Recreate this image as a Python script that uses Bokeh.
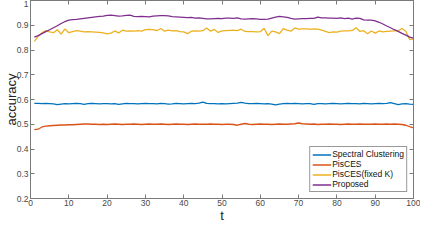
from bokeh.plotting import figure
from bokeh.models import LinearAxis, FixedTicker, Range1d, Legend, LegendItem, CustomJSTickFormatter
from bokeh.embed import file_html
from bokeh.resources import INLINE

t = list(range(1, 101))

spectral = [0.584, 0.584, 0.583, 0.584, 0.583, 0.582, 0.579, 0.581, 0.583, 0.582,
            0.583, 0.584, 0.583, 0.580, 0.583, 0.584, 0.583, 0.582, 0.583, 0.583,
            0.582, 0.583, 0.580, 0.582, 0.584, 0.583, 0.583, 0.582, 0.583, 0.584,
            0.583, 0.583, 0.582, 0.584, 0.583, 0.581, 0.582, 0.584, 0.583, 0.582,
            0.583, 0.584, 0.583, 0.585, 0.589, 0.584, 0.583, 0.583, 0.582, 0.583,
            0.582, 0.583, 0.584, 0.585, 0.588, 0.585, 0.583, 0.583, 0.584, 0.583,
            0.582, 0.583, 0.581, 0.578, 0.581, 0.583, 0.584, 0.583, 0.584, 0.583,
            0.582, 0.583, 0.583, 0.580, 0.583, 0.583, 0.582, 0.583, 0.584, 0.583,
            0.582, 0.583, 0.584, 0.583, 0.583, 0.582, 0.584, 0.583, 0.582, 0.583,
            0.584, 0.583, 0.584, 0.587, 0.583, 0.579, 0.582, 0.583, 0.581, 0.580]

pisces = [0.478, 0.480, 0.489, 0.492, 0.494, 0.495, 0.496, 0.497, 0.497, 0.498,
          0.498, 0.499, 0.500, 0.501, 0.501, 0.500, 0.500, 0.499, 0.500, 0.499,
          0.500, 0.501, 0.500, 0.499, 0.500, 0.500, 0.501, 0.500, 0.499, 0.500,
          0.501, 0.500, 0.500, 0.501, 0.500, 0.499, 0.500, 0.501, 0.500, 0.500,
          0.499, 0.500, 0.501, 0.500, 0.500, 0.500, 0.501, 0.500, 0.500, 0.499,
          0.500, 0.500, 0.499, 0.496, 0.500, 0.503, 0.500, 0.499, 0.500, 0.501,
          0.500, 0.500, 0.499, 0.500, 0.501, 0.500, 0.500, 0.501, 0.502, 0.505,
          0.502, 0.501, 0.500, 0.501, 0.499, 0.500, 0.500, 0.501, 0.500, 0.500,
          0.499, 0.500, 0.501, 0.500, 0.500, 0.501, 0.500, 0.500, 0.500, 0.501,
          0.500, 0.500, 0.501, 0.500, 0.501, 0.500, 0.499, 0.496, 0.490, 0.485]

pisces_fixed = [0.835, 0.855, 0.870, 0.878, 0.873, 0.870, 0.882, 0.864, 0.885, 0.870,
                0.874, 0.878, 0.876, 0.873, 0.874, 0.873, 0.872, 0.871, 0.869, 0.865,
                0.868, 0.877, 0.869, 0.880, 0.876, 0.877, 0.876, 0.878, 0.876, 0.882,
                0.883, 0.882, 0.878, 0.887, 0.876, 0.880, 0.877, 0.878, 0.874, 0.873,
                0.866, 0.876, 0.877, 0.876, 0.878, 0.889, 0.876, 0.883, 0.871, 0.877,
                0.878, 0.879, 0.880, 0.878, 0.884, 0.875, 0.874, 0.874, 0.873, 0.874,
                0.888, 0.858, 0.876, 0.873, 0.866, 0.886, 0.880, 0.876, 0.889, 0.884,
                0.885, 0.885, 0.884, 0.885, 0.884, 0.880, 0.875, 0.870, 0.873, 0.872,
                0.876, 0.877, 0.877, 0.879, 0.890, 0.875, 0.878, 0.866, 0.877, 0.868,
                0.877, 0.873, 0.875, 0.876, 0.877, 0.878, 0.887, 0.876, 0.842, 0.845]

proposed = [0.852, 0.858, 0.866, 0.874, 0.882, 0.890, 0.898, 0.907, 0.915, 0.921,
            0.923, 0.924, 0.926, 0.928, 0.930, 0.932, 0.934, 0.936, 0.937, 0.940,
            0.941, 0.939, 0.937, 0.938, 0.940, 0.941, 0.936, 0.935, 0.936, 0.935,
            0.934, 0.937, 0.938, 0.939, 0.939, 0.938, 0.935, 0.934, 0.933, 0.932,
            0.931, 0.932, 0.929, 0.930, 0.928, 0.926, 0.926, 0.927, 0.928, 0.927,
            0.929, 0.929, 0.928, 0.930, 0.926, 0.925, 0.926, 0.927, 0.926, 0.924,
            0.924, 0.925, 0.929, 0.933, 0.936, 0.934, 0.932, 0.928, 0.925, 0.926,
            0.927, 0.927, 0.928, 0.928, 0.933, 0.930, 0.930, 0.929, 0.929, 0.928,
            0.930, 0.927, 0.929, 0.925, 0.929, 0.928, 0.922, 0.921, 0.921, 0.918,
            0.912, 0.905, 0.897, 0.890, 0.882, 0.875, 0.867, 0.860, 0.852, 0.848]

series_names = ["Spectral Clustering", "PisCES", "PisCES(fixed K)", "Proposed"]
series_colors = ["#0072BD", "#D95319", "#EDB120", "#7E2F8E"]
x_ticks = [0, 10, 20, 30, 40, 50, 60, 70, 80, 90, 100]
y_ticks = [0.2, 0.3, 0.4, 0.5, 0.6, 0.7, 0.8, 0.9, 1.0]

FONT = "Liberation Sans"
AX = "#7a7a7a"
TXT = "#4a4a4a"

p = figure(width=420, height=225, output_backend="svg", toolbar_location=None,
           x_range=Range1d(0, 100), y_range=Range1d(0.2, 1.0),
           x_axis_location=None, y_axis_location=None,
           min_border_left=0, min_border_right=7, min_border_top=0, min_border_bottom=0)
p.grid.visible = False
p.outline_line_color = AX
p.background_fill_color = "white"
p.border_fill_color = "white"

fmt = CustomJSTickFormatter(code="return String(Math.round(tick*10)/10);")

def style(ax, labels=True):
    ax.axis_line_color = AX
    ax.major_tick_line_color = AX
    ax.minor_tick_line_color = None
    ax.major_tick_in = 4
    ax.major_tick_out = 0
    ax.major_label_text_font = FONT
    ax.major_label_text_color = TXT
    if labels:
        ax.major_label_text_font_size = "8.5px"
    else:
        ax.major_label_text_font_size = "1px"
        ax.major_label_text_color = None
        ax.major_label_standoff = 0

xb = LinearAxis(ticker=FixedTicker(ticks=x_ticks), axis_label="t")
style(xb)
xb.major_label_standoff = 1
xb.axis_label_standoff = -1
xb.axis_label_text_font = FONT
xb.axis_label_text_font_style = "normal"
xb.axis_label_text_font_size = "13px"
xb.axis_label_text_color = "#222222"
p.add_layout(xb, "below")

yl = LinearAxis(ticker=FixedTicker(ticks=y_ticks), formatter=fmt, axis_label="accuracy")
style(yl)
yl.major_label_standoff = 2
yl.axis_label_standoff = -5
yl.axis_label_text_font = FONT
yl.axis_label_text_font_style = "normal"
yl.axis_label_text_font_size = "13px"
yl.axis_label_text_color = "#222222"
p.add_layout(yl, "left")

xt = LinearAxis(ticker=FixedTicker(ticks=x_ticks))
style(xt, labels=False)
p.add_layout(xt, "above")

yr = LinearAxis(ticker=FixedTicker(ticks=y_ticks))
style(yr, labels=False)
p.add_layout(yr, "right")

items = []
for name, col, vals in zip(series_names, series_colors,
                           [spectral, pisces, pisces_fixed, proposed]):
    r = p.line(t, vals, line_color=col, line_width=1.3)
    items.append(LegendItem(label=name, renderers=[r]))

legend = Legend(items=items, location="bottom_right")
legend.label_text_font = FONT
legend.label_text_font_size = "8.5px"
legend.label_text_color = "#111111"
legend.label_height = 9
legend.glyph_height = 9
legend.glyph_width = 19
legend.label_standoff = 1
legend.spacing = 0
legend.padding = 2
legend.margin = 6
legend.border_line_color = "#333333"
legend.border_line_width = 1
legend.background_fill_color = "white"
legend.background_fill_alpha = 1
p.add_layout(legend, "center")

open("out.html", "w").write(file_html(p, INLINE))
